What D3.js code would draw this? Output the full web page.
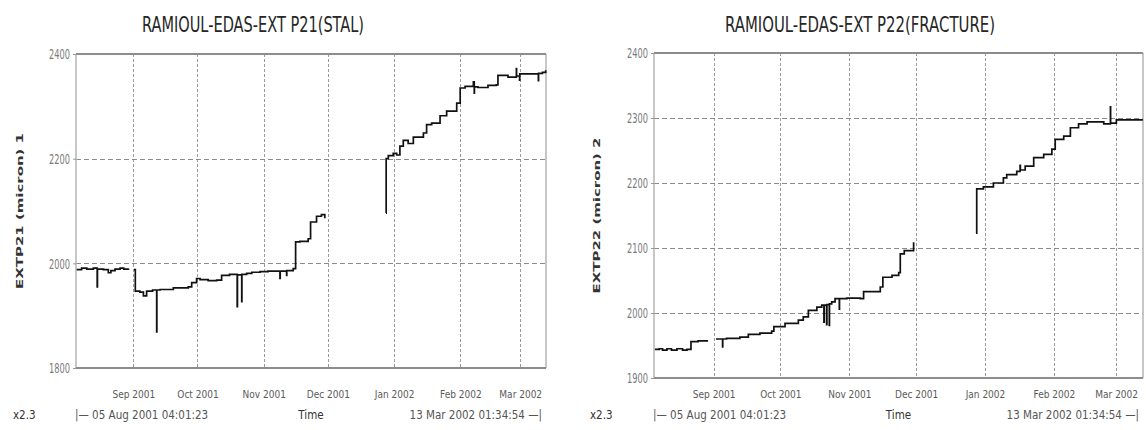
<!DOCTYPE html>
<html>
<head>
<meta charset="utf-8">
<script src="https://cdn.jsdelivr.net/npm/d3@7"></script>
<style>
  html, body { margin: 0; background: #fff; }
  svg { display: block; }
</style>
</head>
<body>
<svg id="chart" width="1146" height="430"></svg>
<script>
// ---- data -------------------------------------------------------------
const timeStart = "2001-08-05 04:01:23";
const timeEnd   = "2002-03-13 01:34:54";
const monthTicks = ["2001-09-01", "2001-10-01", "2001-11-01", "2001-12-01",
                    "2002-01-01", "2002-02-01", "2002-03-01"];
const p21Ticks = [1800, 2000, 2200, 2400];
const p22Ticks = [1900, 2000, 2100, 2200, 2300, 2400];

// extensometer P21 (null = gap in the record)
const p21Time = [
  "2001-08-05 12:00","2001-08-07 19:00","2001-08-10 05:00","2001-08-13 07:00","2001-08-15 02:00",
  "2001-08-15 05:00","2001-08-18 00:00","2001-08-20 07:00","2001-08-21 12:00","2001-08-23 10:00",
  "2001-08-25 19:00","2001-08-27 12:00","2001-08-29 17:00", null,
  "2001-09-01 07:00","2001-09-01 22:00","2001-09-04 02:00","2001-09-05 17:00","2001-09-07 05:00",
  "2001-09-10 00:00","2001-09-11 22:00","2001-09-12 00:00","2001-09-13 12:00","2001-09-19 17:00",
  "2001-09-26 17:00","2001-09-28 07:00","2001-09-30 14:00","2001-10-02 05:00","2001-10-06 00:00",
  "2001-10-10 00:00","2001-10-12 07:00","2001-10-16 00:00","2001-10-19 14:00","2001-10-19 17:00",
  "2001-10-21 17:00","2001-10-21 19:00","2001-10-24 00:00","2001-10-26 10:00","2001-10-30 07:00",
  "2001-11-03 00:00","2001-11-08 14:00","2001-11-08 17:00","2001-11-11 17:00","2001-11-11 19:00",
  "2001-11-14 19:00","2001-11-15 22:00","2001-11-17 22:00","2001-11-21 19:00","2001-11-22 22:00",
  "2001-11-25 17:00","2001-11-28 00:00","2001-11-29 14:00", null,
  "2001-12-28 05:00","2001-12-28 07:00","2001-12-29 07:00","2001-12-31 14:00","2002-01-02 05:00",
  "2002-01-03 17:00","2002-01-05 07:00","2002-01-07 14:00","2002-01-10 00:00","2002-01-14 17:00",
  "2002-01-16 05:00","2002-01-18 14:00","2002-01-22 12:00","2002-01-25 14:00","2002-01-30 07:00",
  "2002-01-31 22:00","2002-02-03 05:00","2002-02-07 02:00","2002-02-07 12:00","2002-02-07 14:00",
  "2002-02-09 05:00","2002-02-13 22:00","2002-02-17 19:00","2002-02-18 14:00","2002-02-23 07:00",
  "2002-02-27 05:00","2002-02-27 07:00","2002-02-28 17:00","2002-02-28 19:00","2002-03-04 00:00",
  "2002-03-09 07:00","2002-03-09 12:00","2002-03-09 14:00","2002-03-11 10:00","2002-03-12 22:00"
];
const p21Value = [
  1988, 1991, 1989, 1991, 1955,
  1989, 1988, 1982, 1986, 1989,
  1991, 1989, 1990, null,
  1988, 1947, 1945, 1938, 1947,
  1949, 1869, 1949, 1950, 1953,
  1955, 1963, 1971, 1969, 1967,
  1968, 1977, 1979, 1917, 1978,
  1927, 1979, 1981, 1983, 1984,
  1985, 1971, 1985, 1977, 1986,
  1990, 2041, 2042, 2047, 2079,
  2090, 2093, 2086, null,
  2096, 2200, 2206, 2210, 2207,
  2224, 2235, 2229, 2241, 2249,
  2265, 2268, 2282, 2291, 2306,
  2335, 2338, 2347, 2325, 2337,
  2336, 2340, 2341, 2359, 2356,
  2372, 2358, 2350, 2362, 2362,
  2362, 2349, 2363, 2365, 2369
];

// extensometer P22 (null = gap in the record)
const p22Time = [
  "2001-08-05 14:00","2001-08-07 12:00","2001-08-09 00:00","2001-08-11 00:00","2001-08-13 00:00",
  "2001-08-15 12:00","2001-08-18 00:00","2001-08-20 00:00","2001-08-21 19:00","2001-08-25 00:00",
  "2001-08-29 12:00", null,
  "2001-09-02 01:00","2001-09-05 00:00","2001-09-05 02:00","2001-09-06 19:00","2001-09-12 19:00",
  "2001-09-16 14:00","2001-09-21 19:00","2001-09-27 02:00","2001-09-28 02:00","2001-10-03 02:00",
  "2001-10-09 02:00","2001-10-11 07:00","2001-10-13 14:00","2001-10-17 10:00","2001-10-19 14:00",
  "2001-10-20 14:00","2001-10-20 17:00","2001-10-21 19:00","2001-10-21 22:00","2001-10-23 00:00",
  "2001-10-23 02:00","2001-10-24 02:00","2001-10-25 14:00","2001-10-27 12:00","2001-10-27 14:00",
  "2001-10-30 22:00","2001-11-05 22:00","2001-11-07 10:00","2001-11-14 22:00","2001-11-16 02:00",
  "2001-11-20 05:00","2001-11-23 05:00","2001-11-23 22:00","2001-11-25 17:00","2001-11-29 22:00", null,
  "2001-12-27 23:00","2001-12-28 07:00","2001-12-31 07:00","2002-01-04 19:00","2002-01-09 07:00",
  "2002-01-10 19:00","2002-01-15 07:00","2002-01-16 19:00","2002-01-16 22:00","2002-01-19 02:00",
  "2002-01-22 22:00","2002-01-27 10:00","2002-01-31 02:00","2002-02-01 14:00","2002-02-05 10:00",
  "2002-02-08 10:00","2002-02-12 02:00","2002-02-15 22:00","2002-02-21 02:00","2002-02-23 10:00",
  "2002-02-26 10:00","2002-02-26 12:00","2002-03-01 02:00","2002-03-13 00:00"
];
const p22Value = [
  1944, 1945, 1943, 1945, 1943,
  1945, 1943, 1944, 1956, 1957,
  1957, null,
  1960, 1948, 1960, 1961, 1963,
  1967, 1969, 1972, 1979, 1984,
  1989, 1994, 2004, 2009, 2012,
  1986, 2012, 1982, 2013, 1981,
  2014, 2017, 2022, 2006, 2022,
  2023, 2022, 2033, 2040, 2055,
  2058, 2062, 2091, 2096, 2109, null,
  2123, 2191, 2194, 2200, 2208,
  2213, 2218, 2227, 2220, 2226,
  2239, 2244, 2252, 2267, 2272,
  2285, 2291, 2294, 2294, 2291,
  2317, 2292, 2297, 2297
];

// ---- drawing ----------------------------------------------------------
const parseFull = d3.timeParse("%Y-%m-%d %H:%M:%S");
const parseMin  = d3.timeParse("%Y-%m-%d %H:%M");
const parseDay  = d3.timeParse("%Y-%m-%d");
const FONT = "'Liberation Sans Narrow', 'DejaVu Sans Condensed', 'Liberation Sans', sans-serif";

const svg = d3.select("#chart");

function fitText(sel, len) {
  return sel.attr("textLength", len).attr("lengthAdjust", "spacingAndGlyphs");
}

function panel(cfg) {
  const g = svg.append("g");
  const x = d3.scaleTime()
    .domain([parseFull(timeStart), parseFull(timeEnd)])
    .range([cfg.left, cfg.right]);
  const y = d3.scaleLinear().domain(cfg.yDomain).range([cfg.bottom, cfg.top]);
  const months = monthTicks.map(parseDay);

  // grid
  g.append("g").selectAll("line").data(months).join("line")
    .attr("x1", d => Math.round(x(d)) + 0.5).attr("x2", d => Math.round(x(d)) + 0.5)
    .attr("y1", cfg.top).attr("y2", cfg.bottom)
    .attr("stroke", "#9a9a9a").attr("stroke-width", 1).attr("stroke-dasharray", "3,2");
  g.append("g").selectAll("line").data(cfg.ticks.slice(1, -1)).join("line")
    .attr("x1", cfg.left).attr("x2", cfg.right)
    .attr("y1", d => Math.round(y(d)) + 0.5).attr("y2", d => Math.round(y(d)) + 0.5)
    .attr("stroke", "#8a8a8a").attr("stroke-width", 1).attr("stroke-dasharray", "5,3");

  // frame
  g.append("line").attr("x1", cfg.left).attr("x2", cfg.left).attr("y1", cfg.top).attr("y2", cfg.bottom)
    .attr("stroke", "#b5b5b5").attr("stroke-width", 1.5);
  g.append("line").attr("x1", cfg.right).attr("x2", cfg.right).attr("y1", cfg.top).attr("y2", cfg.bottom)
    .attr("stroke", "#b5b5b5").attr("stroke-width", 1.5);
  g.append("line").attr("x1", cfg.left).attr("x2", cfg.right).attr("y1", cfg.top).attr("y2", cfg.top)
    .attr("stroke", "#8c8c8c").attr("stroke-width", 2);
  g.append("line").attr("x1", cfg.left).attr("x2", cfg.right).attr("y1", cfg.bottom).attr("y2", cfg.bottom)
    .attr("stroke", "#8c8c8c").attr("stroke-width", 2);

  // y axis
  const ya = g.append("g").attr("transform", `translate(${cfg.left},0)`)
    .call(d3.axisLeft(y).tickValues(cfg.ticks).tickSize(3).tickPadding(3).tickFormat(d3.format("d")));
  ya.select(".domain").remove();
  ya.selectAll(".tick line").attr("stroke", "#999");
  ya.selectAll("text").attr("font-family", FONT).attr("font-size", 14).attr("fill", "#7a7a7a")
    .attr("dy", "0.35em").call(fitText, 21);

  // x axis month labels
  const xa = g.append("g").attr("transform", `translate(0,${cfg.bottom})`)
    .call(d3.axisBottom(x).tickValues(months).tickSize(0).tickFormat(d3.timeFormat("%b %Y")));
  xa.select(".domain").remove();
  xa.selectAll("text").attr("font-family", FONT).attr("font-size", 10).attr("fill", "#5a5a5a")
    .attr("dy", null).attr("y", 398 - cfg.bottom);

  // title
  g.append("text").attr("x", cfg.titleX).attr("y", 32).attr("text-anchor", "middle")
    .attr("font-family", FONT).attr("font-size", 22).attr("fill", "#262626")
    .text(cfg.title).call(fitText, cfg.titleLen);

  // y label
  g.append("text")
    .attr("transform", `translate(${cfg.ylabelX},${(cfg.top + cfg.bottom) / 2}) rotate(-90)`)
    .attr("text-anchor", "middle").attr("dy", "0.35em")
    .attr("font-family", "'DejaVu Sans', sans-serif").attr("font-size", 8).attr("font-weight", "bold")
    .attr("fill", "#333").text(cfg.ylabel).call(fitText, 156);

  // footer
  const foot = (tx, xx, anchor, fill) =>
    g.append("text").attr("x", xx).attr("y", 419).attr("text-anchor", anchor)
      .attr("font-family", FONT).attr("font-size", 11.5).attr("fill", fill)
      .text(tx);
  foot("x2.3", cfg.footX, "start", "#333");
  foot("|\u2014 05 Aug 2001 04:01:23", cfg.left - 1, "start", "#555");
  foot("Time", (cfg.left + cfg.right) / 2, "middle", "#333");
  foot("13 Mar 2002 01:34:54 \u2014|", cfg.right - 4, "end", "#555");

  // series, drawn as a staircase between logged readings
  const rows = cfg.time.map((t, i) => ({ t: t ? parseMin(t) : null, v: cfg.value[i] }));
  g.append("path").datum(rows)
    .attr("fill", "none").attr("stroke", "#111").attr("stroke-width", 1.7)
    .attr("d", d3.line().curve(d3.curveStepAfter)
      .defined(d => d.t && d.v != null).x(d => x(d.t)).y(d => y(d.v)));
}

panel({
  left: 76, right: 546, top: 54, bottom: 368,
  yDomain: [1800, 2400], ticks: p21Ticks,
  title: "RAMIOUL-EDAS-EXT P21(STAL)", titleX: 253, titleLen: 222,
  ylabel: "EXTP21 (micron) 1", ylabelX: 20, footX: 13,
  time: p21Time, value: p21Value
});

panel({
  left: 654, right: 1143, top: 53, bottom: 378,
  yDomain: [1900, 2400], ticks: p22Ticks,
  title: "RAMIOUL-EDAS-EXT  P22(FRACTURE)", titleX: 860, titleLen: 270,
  ylabel: "EXTP22 (micron) 2", ylabelX: 597, footX: 590,
  time: p22Time, value: p22Value
});
</script>
</body>
</html>
